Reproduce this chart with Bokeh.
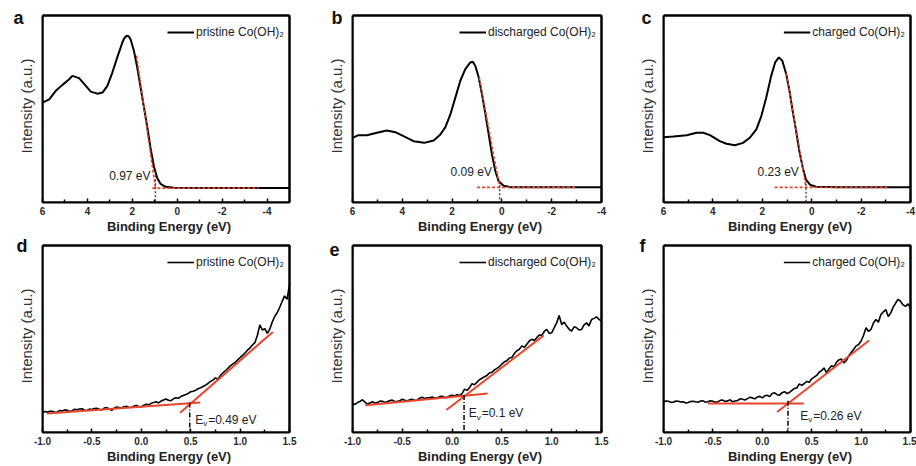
from bokeh.plotting import figure
from bokeh.models import Range1d, FixedTicker, Legend, LegendItem, PrintfTickFormatter
from bokeh.layouts import row, column
from bokeh.embed import file_html
from bokeh.resources import INLINE
from bokeh.core.properties import value
import numpy as np

FONT = "Liberation Sans"
RED = "#e8452e"
EXT = 6  # px: plotting area is drawn a little larger; the visible frame is closed by explicit edges

# ---------------- data: survey VB spectra (top row) ----------------
a_x = [6.0, 5.70, 5.41, 5.11, 4.81, 4.67, 4.37, 4.07, 3.85, 3.56, 3.33, 3.11, 2.89, 2.67, 2.44, 2.35,
       2.25, 2.15, 2.07, 1.93, 1.78, 1.63, 1.48, 1.33, 1.19, 1.04, 0.89, 0.74, 0.52, 0.15, -1.04, -5.0]
a_y = [0.534, 0.552, 0.597, 0.629, 0.659, 0.677, 0.665, 0.624, 0.593, 0.582, 0.588, 0.624, 0.695, 0.776, 0.857, 0.880,
       0.892, 0.888, 0.870, 0.812, 0.722, 0.615, 0.507, 0.400, 0.292, 0.194, 0.131, 0.099, 0.084, 0.079, 0.077, 0.077]

b_x = [6.0, 5.76, 5.42, 5.02, 4.62, 4.28, 3.95, 3.55, 3.12, 2.74, 2.47, 2.27, 2.07, 1.87, 1.67, 1.47,
       1.27, 1.17, 1.07, 0.93, 0.80, 0.66, 0.53, 0.40, 0.26, 0.13, -0.07, -0.34, -1.01, -4.0]
b_y = [0.346, 0.360, 0.360, 0.373, 0.385, 0.376, 0.355, 0.328, 0.319, 0.332, 0.364, 0.403, 0.471, 0.561, 0.651, 0.713,
       0.749, 0.753, 0.731, 0.668, 0.579, 0.471, 0.364, 0.256, 0.167, 0.113, 0.090, 0.082, 0.081, 0.081]

c_x = [6.0, 5.60, 5.06, 4.66, 4.39, 4.12, 3.72, 3.45, 3.11, 2.78, 2.51, 2.24, 2.04, 1.84, 1.64, 1.48,
       1.33, 1.19, 1.03, 0.90, 0.77, 0.63, 0.50, 0.36, 0.23, 0.07, -0.17, -1.11, -4.0]
c_y = [0.349, 0.353, 0.360, 0.373, 0.373, 0.360, 0.328, 0.314, 0.306, 0.319, 0.346, 0.391, 0.462, 0.561, 0.677, 0.749,
       0.776, 0.758, 0.686, 0.597, 0.489, 0.382, 0.274, 0.185, 0.122, 0.095, 0.084, 0.081, 0.081]

top_onsets = [0.97, 0.09, 0.23]
top_tangent_x = [[1.81, 0.97], [0.91, 0.09], [1.03, 0.23]]
top_tangent_y = [[0.785, 0.077], [0.668, 0.081], [0.690, 0.081]]
top_base_x = [[1.11, -3.63], [1.00, -2.95], [1.50, -3.06]]
top_base_y = [[0.077, 0.077], [0.081, 0.081], [0.081, 0.081]]
top_vline_top = [0.167, 0.113, 0.122]
top_label_x = [1.19, 0.40, 0.52]
top_label_y = [0.140, 0.163, 0.163]
top_labels = ["0.97 eV", "0.09 eV", "0.23 eV"]

# ---------------- data: valence band edge (bottom row) ----------------
edge_x = np.linspace(-1.0, 1.5, 101)
d_y = [0.107, 0.112, 0.109, 0.113, 0.114, 0.108, 0.110, 0.118, 0.115, 0.121,
       0.119, 0.113, 0.116, 0.124, 0.121, 0.126, 0.127, 0.119, 0.118, 0.125,
       0.123, 0.128, 0.129, 0.124, 0.120, 0.131, 0.133, 0.127, 0.118, 0.130,
       0.136, 0.134, 0.132, 0.138, 0.140, 0.135, 0.134, 0.141, 0.144, 0.139,
       0.137, 0.146, 0.151, 0.148, 0.156, 0.160, 0.165, 0.158, 0.168, 0.174,
       0.179, 0.172, 0.170, 0.180, 0.186, 0.183, 0.192, 0.198, 0.203, 0.209,
       0.218, 0.221, 0.226, 0.234, 0.239, 0.246, 0.253, 0.262, 0.273, 0.280,
       0.292, 0.285, 0.304, 0.318, 0.330, 0.342, 0.356, 0.366, 0.374, 0.388,
       0.400, 0.412, 0.425, 0.440, 0.452, 0.468, 0.480, 0.520, 0.575, 0.548,
       0.555, 0.530, 0.552, 0.590, 0.620, 0.640, 0.668, 0.700, 0.730, 0.712,
       0.790]
e_y = [0.155, 0.150, 0.160, 0.166, 0.175, 0.162, 0.152, 0.158, 0.164, 0.157,
       0.160, 0.168, 0.167, 0.161, 0.164, 0.171, 0.173, 0.165, 0.167, 0.170,
       0.178, 0.172, 0.169, 0.175, 0.178, 0.171, 0.174, 0.183, 0.188, 0.182,
       0.185, 0.186, 0.190, 0.184, 0.185, 0.192, 0.194, 0.187, 0.188, 0.196,
       0.199, 0.195, 0.202, 0.198, 0.208, 0.232, 0.225, 0.240, 0.261, 0.255,
       0.269, 0.282, 0.290, 0.298, 0.305, 0.318, 0.322, 0.335, 0.343, 0.352,
       0.366, 0.378, 0.384, 0.398, 0.401, 0.422, 0.437, 0.445, 0.463, 0.455,
       0.472, 0.489, 0.498, 0.492, 0.507, 0.521, 0.519, 0.540, 0.551, 0.530,
       0.533, 0.560, 0.586, 0.625, 0.577, 0.590, 0.569, 0.552, 0.542, 0.565,
       0.560, 0.548, 0.551, 0.575, 0.586, 0.570, 0.604, 0.610, 0.618, 0.605,
       0.595]
f_y = [0.164, 0.168, 0.167, 0.161, 0.162, 0.168, 0.167, 0.163, 0.164, 0.158,
       0.160, 0.166, 0.167, 0.164, 0.162, 0.168, 0.169, 0.162, 0.164, 0.170,
       0.167, 0.161, 0.164, 0.172, 0.173, 0.166, 0.169, 0.175, 0.164, 0.168,
       0.171, 0.180, 0.178, 0.174, 0.181, 0.188, 0.185, 0.180, 0.190, 0.193,
       0.185, 0.196, 0.199, 0.192, 0.208, 0.212, 0.202, 0.200, 0.213, 0.218,
       0.208, 0.214, 0.225, 0.236, 0.238, 0.260, 0.252, 0.262, 0.273, 0.268,
       0.287, 0.296, 0.305, 0.322, 0.331, 0.345, 0.319, 0.340, 0.357, 0.350,
       0.375, 0.388, 0.393, 0.372, 0.384, 0.410, 0.428, 0.445, 0.463, 0.470,
       0.489, 0.520, 0.560, 0.540, 0.551, 0.585, 0.604, 0.590, 0.630, 0.645,
       0.657, 0.620, 0.639, 0.670, 0.692, 0.712, 0.701, 0.682, 0.674, 0.688,
       0.665]

bot_base_x = [[-0.956, 0.596], [-0.873, 0.357], [-0.55, 0.42]]
bot_base_y = [[0.102, 0.160], [0.146, 0.208], [0.155, 0.155]]
bot_rise_x = [[0.393, 1.331], [-0.058, 0.92], [0.15, 1.08]]
bot_rise_y = [[0.106, 0.537], [0.120, 0.519], [0.110, 0.492]]
bot_onsets = [0.49, 0.12, 0.26]
bot_vline_top = [0.160, 0.200, 0.170]
bot_label_x = [0.545, 0.166, 0.383]
bot_label_y = [0.067, 0.102, 0.090]
bot_values = ["=0.49 eV", "=0.1 eV", "=0.26 eV"]

legend_names = ["pristine Co(OH)\u2082", "discharged Co(OH)\u2082", "charged Co(OH)\u2082"]
letters_top = ["a", "b", "c"]
letters_bot = ["d", "e", "f"]
top_ticks = [6, 4, 2, 0, -2, -4]
top_minor = [5, 3, 1, -1, -3, -5]
bot_ticks = [-1.0, -0.5, 0.0, 0.5, 1.0, 1.5]
bot_minor = [-0.75, -0.25, 0.25, 0.75, 1.25]


def make_fig(width, height, left, right, top, bottom, xr, frame_w, frame_h, ticks, minor, fmt):
    x0, x1 = xr
    x_end = x1 + (x1 - x0) * EXT / frame_w
    y_end = 1 + EXT / frame_h
    p = figure(width=width, height=height, x_range=Range1d(x0, x_end), y_range=Range1d(0, y_end),
               output_backend="svg", toolbar_location=None,
               min_border_left=left, min_border_right=right - EXT,
               min_border_top=top - EXT, min_border_bottom=bottom)
    p.grid.visible = False
    p.outline_line_color = None
    xa = p.xaxis[0]
    xa.bounds = (min(x0, x1), max(x0, x1))
    xa.ticker = FixedTicker(ticks=ticks, minor_ticks=minor)
    xa.formatter = PrintfTickFormatter(format=fmt)
    xa.axis_line_color = "black"
    xa.axis_line_width = 2
    xa.major_tick_in = 4
    xa.major_tick_out = 0
    xa.minor_tick_in = 3
    xa.minor_tick_out = 0
    xa.major_tick_line_width = 1.5
    xa.minor_tick_line_width = 1.5
    xa.major_label_standoff = 4
    xa.major_label_text_font = FONT
    xa.major_label_text_font_style = "bold"
    xa.major_label_text_font_size = "10px"
    xa.major_label_text_color = "#2a2a2a"
    xa.axis_label = "Binding Energy (eV)"
    xa.axis_label_text_font = FONT
    xa.axis_label_text_font_style = "bold"
    xa.axis_label_text_font_size = "13px"
    xa.axis_label_text_color = "#222222"
    xa.axis_label_standoff = 1
    ya = p.yaxis[0]
    ya.bounds = (0, 1)
    ya.ticker = FixedTicker(ticks=[])
    ya.axis_line_color = "black"
    ya.axis_line_width = 2
    ya.major_tick_out = 0
    ya.major_tick_in = 0
    ya.minor_tick_out = 0
    ya.major_label_text_font_size = "0px"
    ya.major_label_standoff = 0
    ya.axis_label = "Intensity (a.u.)"
    ya.axis_label_text_font = FONT
    ya.axis_label_text_font_style = "normal"
    ya.axis_label_text_font_size = "15px"
    ya.axis_label_text_color = "#333333"
    ya.axis_label_standoff = 8
    # frame box of the panel (top and right edges are not provided by the axes)
    p.quad(left=[min(x0, x1)], right=[max(x0, x1)], bottom=[0], top=[1],
           fill_color=None, line_color="black", line_width=2)
    edge_x = np.linspace(x0, x1, 41)
    edge_y = np.linspace(0.0, 1.0, 41)
    p.line(edge_x, np.ones_like(edge_x), line_color="black", line_width=2)
    p.line(np.full_like(edge_y, x1), edge_y, line_color="black", line_width=2)
    return p


def add_legend(p, r, name):
    leg = Legend(items=[LegendItem(label=name, renderers=[r])], location="top_right",
                 border_line_alpha=0, background_fill_alpha=0,
                 label_text_font=FONT, label_text_font_size="12px", label_text_color="#222222",
                 glyph_width=27, glyph_height=24, label_standoff=2, padding=2, margin=3 + EXT, spacing=0)
    p.add_layout(leg)


def add_letter(p, letter, dx, standoff):
    p.title.text = letter
    p.title.text_font = FONT
    p.title.text_font_style = "bold"
    p.title.text_font_size = "18px"
    p.title.text_color = "#111111"
    p.title.align = "left"
    p.title.offset = dx
    p.title.standoff = standoff
    p.title.text_line_height = 0.3


# ---------------- top row ----------------
top_specs = [
    (310, 42, 21, (6, -5), 247, a_x, a_y, -29),
    (310, 42, 19, (6, -4), 249, b_x, b_y, -21),
    (296, 43, 6, (6, -4), 247, c_x, c_y, -22),
]
top_figs = []
for i, (w, l, r_, xr, fw, xs, ys, ldx) in enumerate(top_specs):
    p = make_fig(w, 237, l, r_, 15, 35, xr, fw, 187, top_ticks, top_minor, "%d")
    rr = p.line(xs, ys, line_color="black", line_width=2)
    p.line(top_tangent_x[i], top_tangent_y[i], line_color=RED, line_width=1.6, line_dash="3 2")
    p.line(top_base_x[i], top_base_y[i], line_color=RED, line_width=1.6, line_dash="3 2")
    p.line([top_onsets[i], top_onsets[i]], [top_vline_top[i], 0], line_color="#7a2a1e",
           line_width=1.4, line_dash="2 2")
    p.text(x=[top_label_x[i]], y=[top_label_y[i]], text=[top_labels[i]],
           text_font=value(FONT), text_font_size=value("12px"), text_color="#222222",
           text_align="right", text_baseline="middle")
    add_legend(p, rr, legend_names[i])
    add_letter(p, letters_top[i], ldx, -37)
    top_figs.append(p)

# ---------------- bottom row ----------------
bot_specs = [
    (310, 42, 21, 247, d_y, -26),
    (310, 42, 19, 249, e_y, -23),
    (296, 43, 6, 247, f_y, -24),
]
bot_figs = []
for i, (w, l, r_, fw, ys, ldx) in enumerate(bot_specs):
    p = make_fig(w, 229, l, r_, 8, 32, (-1.0, 1.5), fw, 189, bot_ticks, bot_minor, "%.1f")
    rr = p.line(edge_x, ys, line_color="black", line_width=1.6)
    p.line(bot_base_x[i], bot_base_y[i], line_color=RED, line_width=2)
    p.line(bot_rise_x[i], bot_rise_y[i], line_color=RED, line_width=2)
    p.line([bot_onsets[i], bot_onsets[i]], [bot_vline_top[i], 0], line_color="black",
           line_width=1.5, line_dash="5 2 1 2")
    p.text(x=[bot_label_x[i]], y=[bot_label_y[i]], text=["E"],
           text_font=value(FONT), text_font_size=value("12px"), text_color="#222222",
           text_align="left", text_baseline="middle")
    p.text(x=[bot_label_x[i]], y=[bot_label_y[i]], text=["v"], x_offset=8, y_offset=4,
           text_font=value(FONT), text_font_size=value("8px"), text_color="#222222",
           text_align="left", text_baseline="middle")
    p.text(x=[bot_label_x[i]], y=[bot_label_y[i]], text=[bot_values[i]], x_offset=13,
           text_font=value(FONT), text_font_size=value("12px"), text_color="#222222",
           text_align="left", text_baseline="middle")
    add_legend(p, rr, legend_names[i])
    add_letter(p, letters_bot[i], ldx, -33)
    bot_figs.append(p)

layout = column(row(*top_figs), row(*bot_figs))
open("out.html", "w").write(file_html(layout, INLINE))
